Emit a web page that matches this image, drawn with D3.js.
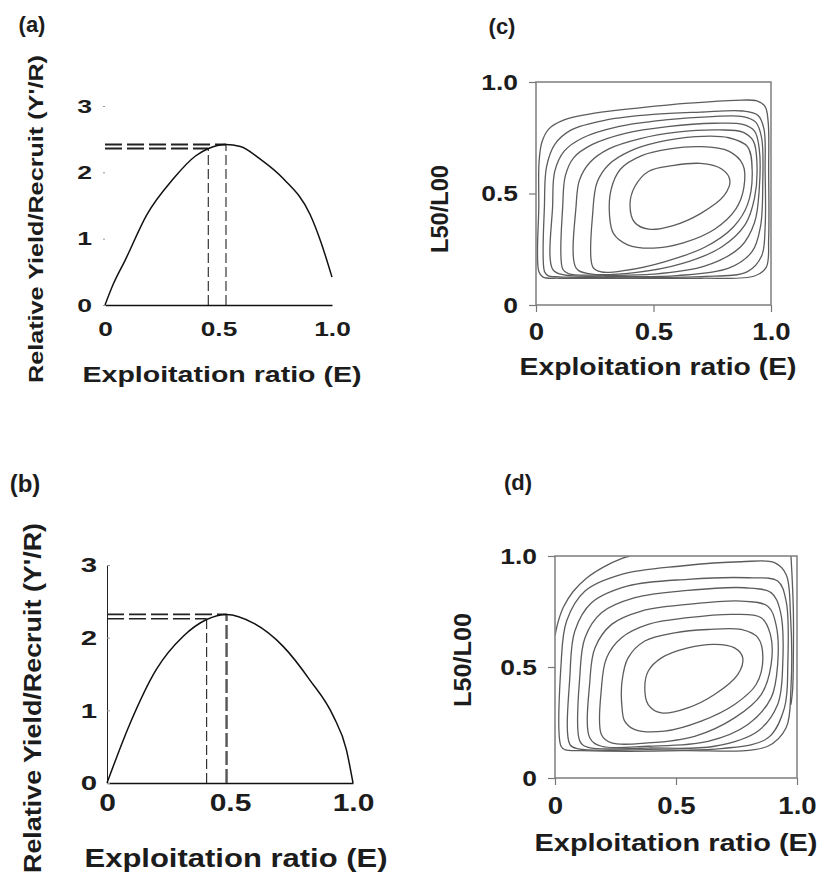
<!DOCTYPE html>
<html>
<head>
<meta charset="utf-8">
<script src="https://cdn.jsdelivr.net/npm/d3@7"></script>
<style>
  body { margin: 0; background: #fff; }
  svg text { font-family: "Liberation Sans", Arial, sans-serif; font-weight: bold; fill: #1c1c1c; }
</style>
</head>
<body>
<div id="chart"></div>
<script>
// tick values
const ticksE = [0, 0.5, 1.0]
const ticksYPR = [0, 1, 2, 3]
const ticksL = [0, 0.5, 1.0]

// relative yield per recruit curves, [E, Y'/R]
const yprA = [[0, 0], [0.037, 0.32], [0.088, 0.67], [0.184, 1.36], [0.3, 1.9], [0.4, 2.25], [0.456, 2.36],
  [0.532, 2.42], [0.596, 2.39], [0.684, 2.2], [0.787, 1.9], [0.904, 1.36], [0.949, 0.97], [1.0, 0.42]]
const yprB = [[0, 0], [0.095, 0.83], [0.2, 1.56], [0.31, 2.02], [0.405, 2.25], [0.486, 2.32], [0.595, 2.2],
  [0.716, 1.88], [0.824, 1.42], [0.92, 0.92], [0.973, 0.46], [1.0, 0]]

// reference points (E, Y'/R) marked by the dashed lines
const refA = [[0.455, 2.36, 'thin'], [0.533, 2.42, 'thin']]
const refB = [[0.405, 2.26, 'thin'], [0.486, 2.32, 'thick']]

// isopleths (c), [E, L50/Loo], closed loops from outer to inner
const isoC = [
  [[0.012, 0.15], [0.012, 0.45], [0.013, 0.64], [0.025, 0.73], [0.055, 0.79], [0.12, 0.83], [0.25, 0.86], [0.45, 0.885],
   [0.65, 0.905], [0.85, 0.918], [0.94, 0.915], [0.975, 0.89], [0.988, 0.82], [0.99, 0.6], [0.99, 0.3], [0.98, 0.17],
   [0.93, 0.13], [0.7, 0.12], [0.4, 0.12], [0.1, 0.12], [0.03, 0.125]],
  [[0.036, 0.15], [0.036, 0.45], [0.045, 0.62], [0.08, 0.72], [0.15, 0.785], [0.3, 0.83], [0.5, 0.855], [0.7, 0.865],
   [0.88, 0.87], [0.945, 0.85], [0.97, 0.79], [0.975, 0.6], [0.975, 0.35], [0.96, 0.22], [0.9, 0.15], [0.7, 0.127],
   [0.4, 0.125], [0.1, 0.126], [0.05, 0.132]],
  [[0.071, 0.16], [0.071, 0.45], [0.08, 0.6], [0.12, 0.69], [0.2, 0.75], [0.35, 0.8], [0.55, 0.83], [0.75, 0.845],
   [0.88, 0.845], [0.935, 0.82], [0.96, 0.75], [0.965, 0.55], [0.955, 0.35], [0.92, 0.24], [0.82, 0.165], [0.6, 0.132],
   [0.3, 0.129], [0.12, 0.135]],
  [[0.114, 0.16], [0.114, 0.45], [0.125, 0.58], [0.16, 0.66], [0.24, 0.72], [0.38, 0.77], [0.56, 0.8], [0.76, 0.815],
   [0.88, 0.81], [0.93, 0.78], [0.95, 0.7], [0.95, 0.52], [0.93, 0.37], [0.87, 0.26], [0.72, 0.175], [0.5, 0.138],
   [0.25, 0.134], [0.14, 0.14]],
  [[0.171, 0.165], [0.171, 0.45], [0.185, 0.56], [0.23, 0.64], [0.31, 0.7], [0.44, 0.745], [0.6, 0.775], [0.78, 0.785],
   [0.88, 0.775], [0.925, 0.735], [0.94, 0.64], [0.93, 0.48], [0.89, 0.36], [0.79, 0.26], [0.62, 0.185], [0.42, 0.145],
   [0.23, 0.14]],
  [[0.242, 0.17], [0.242, 0.42], [0.26, 0.55], [0.31, 0.63], [0.4, 0.69], [0.52, 0.73], [0.68, 0.755], [0.82, 0.75],
   [0.9, 0.71], [0.92, 0.6], [0.9, 0.45], [0.84, 0.35], [0.72, 0.26], [0.55, 0.195], [0.38, 0.155], [0.28, 0.148]],
  [[0.313, 0.4], [0.32, 0.52], [0.36, 0.61], [0.45, 0.67], [0.57, 0.7], [0.7, 0.71], [0.82, 0.69], [0.88, 0.63],
   [0.885, 0.53], [0.85, 0.43], [0.76, 0.34], [0.63, 0.28], [0.5, 0.255], [0.39, 0.27], [0.33, 0.32]],
  [[0.4, 0.45], [0.42, 0.53], [0.48, 0.6], [0.58, 0.625], [0.7, 0.635], [0.79, 0.61], [0.825, 0.56], [0.8, 0.49],
   [0.7, 0.41], [0.58, 0.355], [0.48, 0.34], [0.42, 0.37]]
]

// isopleths (d): outermost one is cut by the frame (open), the others are closed loops
const isoDOpen = [
  [[0, 0.64], [0.012, 0.7], [0.035, 0.77], [0.075, 0.84], [0.13, 0.9], [0.2, 0.95], [0.28, 0.99], [0.31, 1.0]],
  [[0.975, 1.0], [0.98, 0.9], [0.985, 0.75], [0.985, 0.55], [0.982, 0.4], [0.975, 0.33]]
]
const isoD = [
  [[0.025, 0.143], [0.025, 0.511], [0.048, 0.707], [0.124, 0.842], [0.275, 0.917], [0.522, 0.955], [0.769, 0.974],
   [0.907, 0.97], [0.955, 0.917], [0.973, 0.737], [0.975, 0.406], [0.955, 0.226], [0.879, 0.143], [0.522, 0.123],
   [0.11, 0.123], [0.041, 0.128]],
  [[0.062, 0.15], [0.062, 0.466], [0.082, 0.662], [0.151, 0.789], [0.302, 0.865], [0.549, 0.895], [0.797, 0.902],
   [0.92, 0.887], [0.955, 0.797], [0.962, 0.511], [0.948, 0.316], [0.879, 0.18], [0.687, 0.132], [0.385, 0.128],
   [0.096, 0.131]],
  [[0.103, 0.165], [0.103, 0.466], [0.124, 0.632], [0.192, 0.744], [0.33, 0.812], [0.549, 0.845], [0.783, 0.857],
   [0.893, 0.835], [0.931, 0.752], [0.941, 0.511], [0.92, 0.331], [0.838, 0.211], [0.659, 0.143], [0.385, 0.135],
   [0.137, 0.138]],
  [[0.144, 0.18], [0.144, 0.436], [0.165, 0.586], [0.234, 0.692], [0.357, 0.752], [0.549, 0.782], [0.769, 0.797],
   [0.879, 0.774], [0.913, 0.692], [0.92, 0.511], [0.893, 0.361], [0.797, 0.241], [0.632, 0.165], [0.385, 0.143],
   [0.192, 0.143]],
  [[0.192, 0.195], [0.192, 0.406], [0.213, 0.541], [0.275, 0.632], [0.385, 0.692], [0.549, 0.722], [0.742, 0.737],
   [0.852, 0.722], [0.89, 0.647], [0.893, 0.511], [0.852, 0.376], [0.742, 0.271], [0.577, 0.188], [0.385, 0.158],
   [0.234, 0.158]],
  [[0.277, 0.316], [0.277, 0.436], [0.302, 0.541], [0.371, 0.617], [0.495, 0.654], [0.632, 0.669], [0.769, 0.669],
   [0.838, 0.632], [0.859, 0.541], [0.831, 0.421], [0.742, 0.331], [0.604, 0.256], [0.453, 0.211], [0.33, 0.218],
   [0.288, 0.256]],
  [[0.371, 0.406], [0.385, 0.481], [0.44, 0.541], [0.549, 0.586], [0.659, 0.602], [0.742, 0.586], [0.776, 0.541],
   [0.755, 0.466], [0.659, 0.376], [0.549, 0.316], [0.44, 0.293], [0.385, 0.331]]
]

const xTitle = 'Exploitation ratio (E)'
const yprTitle = "Relative Yield/Recruit (Y'/R)"
const lTitle = 'L50/L00'

const fmtE = d => d === 0 ? '0' : d.toFixed(1)

const svg = d3.select('#chart').append('svg').attr('width', 822).attr('height', 874)

// stretch tick labels, the scanned figure is wider than the font
const stretch = (sel, k) => sel.each(function () {
  const w = this.getComputedTextLength()
  d3.select(this).attr('textLength', w * k).attr('lengthAdjust', 'spacingAndGlyphs')
})

const addText = (txt, x, y, size, len, rotate = false) => {
  const t = svg.append('text')
    .attr('transform', 'translate(' + x + ',' + y + ')' + (rotate ? ' rotate(-90)' : ''))
    .attr('text-anchor', 'middle')
    .attr('font-size', size)
    .text(txt)
  if (len) t.attr('textLength', len).attr('lengthAdjust', 'spacingAndGlyphs')
  return t
}

function drawYield(o) {
  const x = d3.scaleLinear().domain([0, 1]).range([o.x0, o.x1])
  const y = d3.scaleLinear().domain([0, 3]).range([o.y0, o.y1])

  const gx = svg.append('g').attr('transform', 'translate(0,' + o.y0 + ')')
    .call(d3.axisBottom(x).tickValues(ticksE).tickFormat(fmtE).tickSize(0).tickPadding(o.xPad))
  gx.select('.domain').attr('stroke', '#111').attr('stroke-width', 1.4)
  gx.selectAll('text').attr('font-size', o.xFs).call(stretch, 1.25)

  const gy = svg.append('g').attr('transform', 'translate(' + o.x0 + ',0)')
    .call(d3.axisLeft(y).tickValues(ticksYPR).tickFormat(d3.format('d'))
      .tickSizeInner(o.yTick).tickSizeOuter(0).tickPadding(o.yPad))
  gy.select('.domain').attr('stroke', o.showYAxis ? '#222' : 'none').attr('stroke-width', 1)
  gy.selectAll('.tick line').attr('stroke', '#999')
  gy.selectAll('text').attr('font-size', o.yFs).call(stretch, 1.4)

  // dashed guide lines to the optimum
  o.ref.forEach(([e, v, kind]) => {
    svg.append('line')
      .attr('x1', x(0)).attr('x2', x(e)).attr('y1', y(v)).attr('y2', y(v))
      .attr('stroke', '#222').attr('stroke-width', o.hWidth).attr('stroke-dasharray', o.hDash)
    svg.append('line')
      .attr('x1', x(e)).attr('x2', x(e)).attr('y1', y(0)).attr('y2', y(v))
      .attr('stroke', kind === 'thick' ? '#555' : '#222')
      .attr('stroke-width', kind === 'thick' ? 2.4 : 1.1)
      .attr('stroke-dasharray', kind === 'thick' ? '14,4' : '10,4')
  })

  const line = d3.line().x(d => x(d[0])).y(d => y(d[1])).curve(d3.curveMonotoneX)
  svg.append('path').datum(o.data).attr('d', line)
    .attr('fill', 'none').attr('stroke', '#111').attr('stroke-width', 1.5)
}

function drawIso(o) {
  const x = d3.scaleLinear().domain([0, 1]).range([o.x0, o.x1])
  const y = d3.scaleLinear().domain([0, 1]).range([o.y0, o.y1])

  svg.append('clipPath').attr('id', o.id)
    .append('rect').attr('x', o.x0).attr('y', o.y1).attr('width', o.x1 - o.x0).attr('height', o.y0 - o.y1)

  const g = svg.append('g').attr('clip-path', 'url(#' + o.id + ')')
  const closed = d3.line().x(d => x(d[0])).y(d => y(d[1])).curve(d3.curveCatmullRomClosed.alpha(0.5))
  const open = d3.line().x(d => x(d[0])).y(d => y(d[1])).curve(d3.curveCatmullRom.alpha(0.5))
  g.selectAll('path.loop').data(o.loops).join('path').attr('class', 'loop')
    .attr('d', closed).attr('fill', 'none').attr('stroke', '#5c5c5c').attr('stroke-width', 1.3)
  g.selectAll('path.open').data(o.open || []).join('path').attr('class', 'open')
    .attr('d', open).attr('fill', 'none').attr('stroke', '#5c5c5c').attr('stroke-width', 1.3)

  svg.append('rect').attr('x', o.x0).attr('y', o.y1).attr('width', o.x1 - o.x0).attr('height', o.y0 - o.y1)
    .attr('fill', 'none').attr('stroke', '#858585').attr('stroke-width', 1.6)

  const gx = svg.append('g').attr('transform', 'translate(0,' + o.y0 + ')')
    .call(d3.axisBottom(x).tickValues(ticksE).tickFormat(fmtE).tickSizeInner(7).tickSizeOuter(0).tickPadding(o.xPad))
  gx.select('.domain').remove()
  gx.selectAll('.tick line').attr('stroke', '#777').attr('stroke-width', 1.2)
  gx.selectAll('text').attr('font-size', o.xFs).call(stretch, 1.2)

  const gy = svg.append('g').attr('transform', 'translate(' + o.x0 + ',0)')
    .call(d3.axisLeft(y).tickValues(ticksL).tickFormat(fmtE).tickSizeInner(7).tickSizeOuter(0).tickPadding(o.yPad))
  gy.select('.domain').remove()
  gy.selectAll('.tick line').attr('stroke', '#777').attr('stroke-width', 1.2)
  gy.selectAll('text').attr('font-size', o.yFs).call(stretch, 1.2)
}

// (a)
drawYield({ x0: 105, x1: 332, y0: 305, y1: 106, data: yprA, ref: refA, showYAxis: false, yTick: 2,
  xPad: 16, yPad: 11, xFs: 21, yFs: 19, hWidth: 2, hDash: '17,5' })
addText('(a)', 32, 32, 22)
addText(xTitle, 222, 382, 22, 279)
addText(yprTitle, 43, 219, 21, 328, true)

// (b)
drawYield({ x0: 107, x1: 353, y0: 783, y1: 565, data: yprB, ref: refB, showYAxis: true, yTick: -3,
  xPad: 11, yPad: 10, xFs: 24, yFs: 21, hWidth: 1.6, hDash: '17,5' })
addText('(b)', 25, 492, 24)
addText(xTitle, 236, 867, 25, 303)
addText(yprTitle, 41, 698, 24, 350, true)

// (c)
drawIso({ id: 'clipC', x0: 536, x1: 771, y0: 305, y1: 82, loops: isoC, xPad: 12, yPad: 11, xFs: 23, yFs: 22 })
addText('(c)', 502, 34, 22)
addText(xTitle, 658, 375, 24, 277)
addText(lTitle, 448, 209, 23, 88, true)

// (d)
drawIso({ id: 'clipD', x0: 555, x1: 797, y0: 778, y1: 556, loops: isoD, open: isoDOpen, xPad: 13, yPad: 11, xFs: 23, yFs: 22 })
addText('(d)', 518, 490, 22)
addText(xTitle, 676, 851, 24, 283)
addText(lTitle, 471, 660, 23, 94, true)
</script>
</body>
</html>
